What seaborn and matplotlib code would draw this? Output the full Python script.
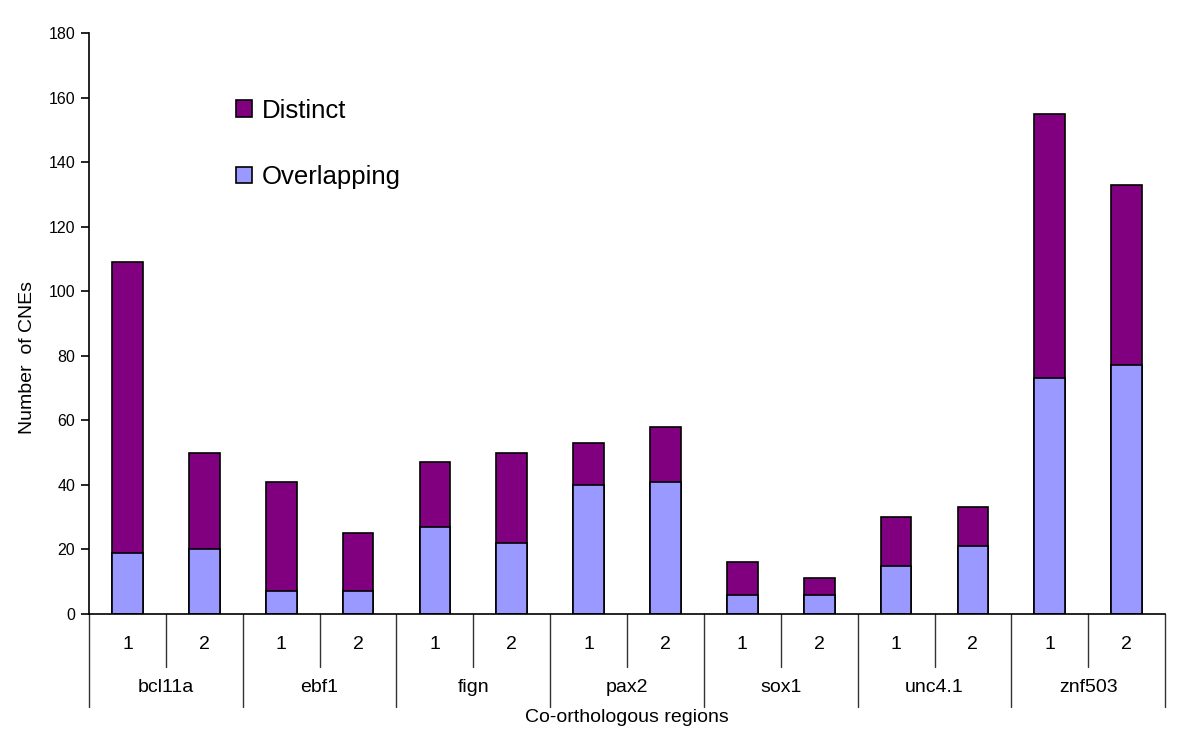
import pandas as pd
import seaborn as sns
import numpy as np
import matplotlib.pyplot as plt
from matplotlib.patches import Patch
import matplotlib.transforms as mtransforms

# Data
genes = ['bcl11a', 'ebf1', 'fign', 'pax2', 'sox1', 'unc4.1', 'znf503']
copies = ['1', '2']
overlapping = [19, 20, 7, 7, 27, 22, 40, 41, 6, 6, 15, 21, 73, 77]
distinct = [90, 30, 34, 18, 20, 28, 13, 17, 10, 5, 15, 12, 82, 56]

purple = '#800080'
lilac = '#9999FF'

sns.set_theme(style='white')
plt.rcParams['font.family'] = ['Liberation Sans', 'DejaVu Sans']
plt.rcParams['text.color'] = 'black'
plt.rcParams['axes.labelcolor'] = 'black'
plt.rcParams['ytick.color'] = 'black'

# Build a table with one row per bar
labels = [g + ' ' + c for g in genes for c in copies]
df = pd.DataFrame({'region': labels,
                   'Overlapping': overlapping,
                   'Distinct': distinct})
df['Total'] = df['Overlapping'] + df['Distinct']

fig = plt.figure(figsize=(12, 7.37), dpi=100)
ax = fig.add_axes([0.0742, 0.1669, 0.8967, 0.7883])

# Stacked bars: total (purple) behind, overlapping (lilac) in front
sns.barplot(data=df, x='region', y='Total', color=purple, width=0.4,
            edgecolor='black', linewidth=1.2, saturation=1, ax=ax)
sns.barplot(data=df, x='region', y='Overlapping', color=lilac, width=0.4,
            edgecolor='black', linewidth=1.2, saturation=1, ax=ax)

ax.set_ylim(0, 180)
ax.set_xlim(-0.5, len(labels) - 0.5)
ax.set_yticks(np.arange(0, 181, 20))
ax.tick_params(axis='y', which='major', left=True, length=6, width=1.2,
               labelsize=11.5, color='black', labelcolor='black', pad=4)
ax.tick_params(axis='x', bottom=False, labelbottom=False)
for side in ['top', 'right']:
    ax.spines[side].set_visible(False)
for side in ['left', 'bottom']:
    ax.spines[side].set_color('black')
    ax.spines[side].set_linewidth(1.2)

ax.set_xlabel('')
ax.set_ylabel('Number  of CNEs', fontsize=14, va='center')
ax.yaxis.set_label_coords(-0.057, 0.442)

# Two-level category axis
trans = mtransforms.blended_transform_factory(ax.transData, ax.transAxes)
n = len(labels)
for i in range(n + 1):
    x = i - 0.5
    low = -0.160 if i % 2 == 0 else -0.091
    ax.plot([x, x], [0, low], transform=trans, color='#333333', lw=1,
            clip_on=False)
for i, lab in enumerate(labels):
    ax.text(i, -0.052, lab.split(' ')[1], transform=trans, ha='center',
            va='center', fontsize=14)
for j, g in enumerate(genes):
    ax.text(2 * j + 0.5, -0.127, g, transform=trans, ha='center',
            va='center', fontsize=14)
ax.text(0.5, -0.178, 'Co-orthologous regions', transform=ax.transAxes,
        ha='center', va='center', fontsize=14)

# Legend
handles = [Patch(facecolor=purple, edgecolor='black', lw=1.2, label='Distinct'),
           Patch(facecolor=lilac, edgecolor='black', lw=1.2, label='Overlapping')]
ax.legend(handles=handles, loc='upper left', bbox_to_anchor=(0.137, 0.887),
          frameon=False, fontsize=18.5, handlelength=0.62, handleheight=0.62,
          handletextpad=0.35, labelspacing=1.65, borderpad=0, borderaxespad=0)

fig.savefig('out.png', dpi=100)
